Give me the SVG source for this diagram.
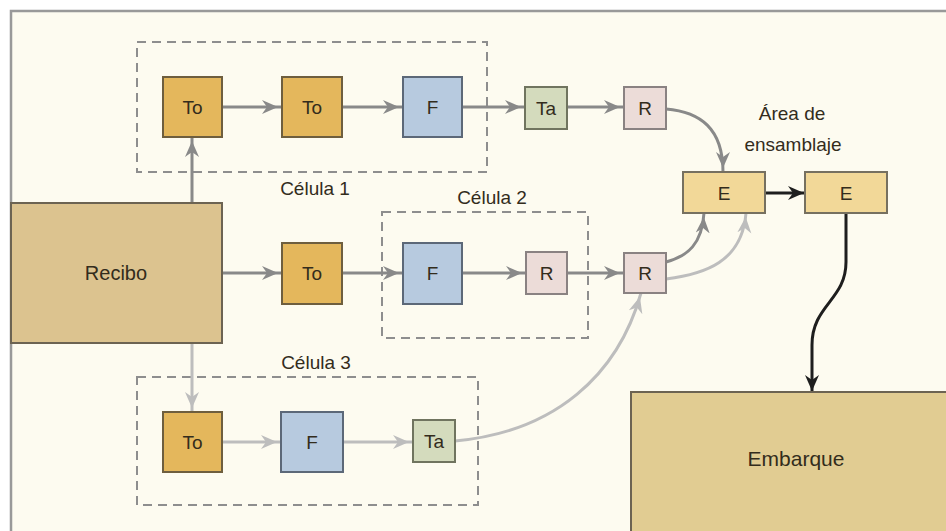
<svg xmlns="http://www.w3.org/2000/svg" width="946" height="531" viewBox="0 0 946 531">
<defs>
<style>
.t{font-family:"Liberation Sans",Arial,sans-serif;fill:#332c1c;text-anchor:middle;dominant-baseline:central}
.bx{font-size:19px}
.lbl{font-size:19px}
.cell{fill:none;stroke:#8e8e8e;stroke-width:2;stroke-dasharray:9 6}
.to{fill:#e4b75c;stroke:#6e5e3e;stroke-width:2}
.f{fill:#b7cadf;stroke:#5c6878;stroke-width:2}
.ta{fill:#d4dbbd;stroke:#70745f;stroke-width:2}
.r{fill:#ecdcd8;stroke:#8a8282;stroke-width:2}
.e{fill:#f2d898;stroke:#767060;stroke-width:2}
.big{fill:#dcc38f;stroke:#6c6352;stroke-width:2}
.cd{fill:none;stroke:#898989;stroke-width:3}
.cl{fill:none;stroke:#bdbdbd;stroke-width:3}
.ck{fill:none;stroke:#1e1e1e;stroke-width:3}
</style>
<marker id="aD" markerUnits="userSpaceOnUse" markerWidth="30" markerHeight="20" viewBox="0 -10 30 20" refX="20" refY="0" orient="auto"><path d="M0,-7 L16,0 L0,7 L5,0 Z" fill="#898989"/></marker>
<marker id="aL" markerUnits="userSpaceOnUse" markerWidth="30" markerHeight="20" viewBox="0 -10 30 20" refX="20" refY="0" orient="auto"><path d="M0,-7 L16,0 L0,7 L5,0 Z" fill="#bdbdbd"/></marker>
<marker id="aK" markerUnits="userSpaceOnUse" markerWidth="30" markerHeight="20" viewBox="0 -10 30 20" refX="17" refY="0" orient="auto"><path d="M0,-7 L16,0 L0,7 L5,0 Z" fill="#1e1e1e"/></marker>
</defs>
<rect x="0" y="0" width="946" height="531" fill="#ffffff"/>
<rect x="11" y="11" width="940" height="530" fill="#fdfbf0" stroke="#999999" stroke-width="2.5"/>

<g id="cells">
<rect class="cell" x="137" y="42" width="350" height="130"/>
<rect class="cell" x="382" y="212" width="206" height="126"/>
<rect class="cell" x="137" y="377" width="341" height="128"/>
<text class="t lbl" x="315" y="188">Célula 1</text>
<text class="t lbl" x="492" y="197">Célula 2</text>
<text class="t lbl" x="316" y="362">Célula 3</text>
<text class="t lbl" x="792" y="113">Área de</text>
<text class="t lbl" x="793" y="144">ensamblaje</text>
</g>

<g id="connectors">
<path class="cd" d="M192,203 L192,137" marker-end="url(#aD)"/>
<path class="cl" d="M192,343 L192,412" marker-end="url(#aL)"/>
<path class="cd" d="M222,107 L282,107" marker-end="url(#aD)"/>
<path class="cd" d="M342,107 L403,107" marker-end="url(#aD)"/>
<path class="cd" d="M462,107 L525,107" marker-end="url(#aD)"/>
<path class="cd" d="M567,107 L624,107" marker-end="url(#aD)"/>
<path class="cd" d="M666,109 C700,112 723,128 723,172" marker-end="url(#aD)"/>
<path class="cd" d="M222,273 L282,273" marker-end="url(#aD)"/>
<path class="cd" d="M342,273 L403,273" marker-end="url(#aD)"/>
<path class="cd" d="M462,273 L526,273" marker-end="url(#aD)"/>
<path class="cd" d="M567,273 L624,273" marker-end="url(#aD)"/>
<path class="cd" d="M666,262 C688,256 702,244 704,213" marker-end="url(#aD)"/>
<path class="cl" d="M666,279 C705,274 742,262 746,213" marker-end="url(#aL)"/>
<path class="cl" d="M222,442 L281,442" marker-end="url(#aL)"/>
<path class="cl" d="M343,442 L413,442" marker-end="url(#aL)"/>
<path class="cl" d="M455,441 C555,432 618,375 641,293" marker-end="url(#aL)"/>
<path class="ck" d="M765,193 L805,193" marker-end="url(#aK)"/>
<path class="ck" d="M846,213 L846,262 C846,300 812,305 812,345 L812,392" marker-end="url(#aK)"/>
</g>

<g id="recibo"><rect class="big" x="11" y="203" width="211" height="140"/><text class="t" style="font-size:20px" x="116" y="273">Recibo</text></g>
<g id="embarque"><rect class="big" style="fill:#e1cc92" x="631" y="392" width="330" height="150"/><text class="t" style="font-size:21px" x="796" y="458">Embarque</text></g>

<g id="c1to1"><rect class="to" x="163" y="77" width="59" height="60"/><text class="t bx" x="192.5" y="107">To</text></g>
<g id="c1to2"><rect class="to" x="282" y="77" width="60" height="60"/><text class="t bx" x="312" y="107">To</text></g>
<g id="c1f"><rect class="f" x="403" y="77" width="59" height="60"/><text class="t bx" x="432.5" y="107">F</text></g>
<g id="c1ta"><rect class="ta" x="525" y="87" width="42" height="42"/><text class="t bx" x="546" y="108">Ta</text></g>
<g id="c1r"><rect class="r" x="624" y="87" width="42" height="42"/><text class="t bx" x="645" y="108">R</text></g>

<g id="mto"><rect class="to" x="282" y="243" width="60" height="61"/><text class="t bx" x="312" y="273">To</text></g>
<g id="c2f"><rect class="f" x="403" y="243" width="59" height="61"/><text class="t bx" x="432.5" y="273">F</text></g>
<g id="c2r"><rect class="r" x="526" y="252" width="41" height="42"/><text class="t bx" x="546.5" y="273">R</text></g>
<g id="mr"><rect class="r" x="624" y="253" width="42" height="40"/><text class="t bx" x="645" y="273">R</text></g>

<g id="e1"><rect class="e" x="683" y="172" width="82" height="41"/><text class="t bx" x="724" y="193">E</text></g>
<g id="e2"><rect class="e" x="805" y="172" width="82" height="41"/><text class="t bx" x="846" y="193">E</text></g>

<g id="c3to"><rect class="to" x="163" y="412" width="59" height="60"/><text class="t bx" x="192.5" y="442">To</text></g>
<g id="c3f"><rect class="f" x="281" y="412" width="62" height="60"/><text class="t bx" x="312" y="442">F</text></g>
<g id="c3ta"><rect class="ta" x="413" y="420" width="42" height="42"/><text class="t bx" x="434" y="441">Ta</text></g>
</svg>
